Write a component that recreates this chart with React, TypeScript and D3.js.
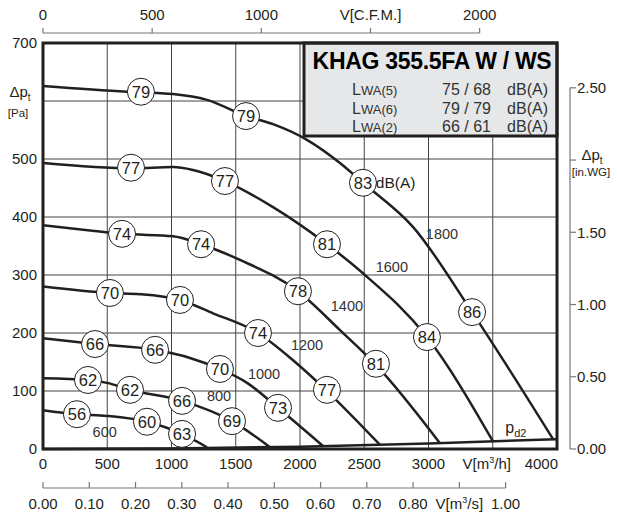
import * as d3 from "d3";
import React from "react";

// flow ticks (m3/h) and pressure ticks (Pa)
const flowTicks = [0, 500, 1000, 1500, 2000, 2500, 3000, 3500, 4000];
const pressureTicks = [0, 100, 200, 300, 400, 500, 600, 700];
const cfmTicks = [0, 500, 1000, 1500, 2000];
const m3sTicks = [0, 0.1, 0.2, 0.3, 0.4, 0.5, 0.6, 0.7, 0.8, 0.9, 1.0];
const inwgTicks = [0, 0.5, 1.0, 1.5, 2.0, 2.5];

// fan curves [V m3/h, dp Pa]
const curve600 = [[0, 67], [264, 60], [498, 57], [809, 47], [1082, 26], [1276, 3]];
const curve800 = [[0, 122], [350, 119], [498, 114], [677, 102], [1082, 83], [1471, 48], [1767, 3]];
const curve1000 = [[0, 191], [405, 181], [872, 171], [1144, 157], [1377, 138], [1588, 114], [1829, 71], [2179, 5]];
const curve1200 = [[0, 280], [521, 269], [755, 267], [1066, 257], [1323, 234], [1673, 200], [1946, 153], [2200, 102], [2623, 7]];
const curve1400 = [[0, 386], [400, 376], [623, 371], [1012, 367], [1230, 353], [1533, 326], [1984, 272], [2311, 205], [2591, 145], [3089, 10]];
const curve1600 = [[0, 493], [693, 484], [1012, 486], [1167, 481], [1416, 462], [1790, 417], [2210, 353], [2490, 303], [2988, 193], [3502, 13]];
const curve1800 = [[0, 626], [654, 616], [1012, 612], [1276, 602], [1580, 574], [1790, 560], [2054, 533], [2311, 493], [2490, 459], [2879, 383], [3339, 236], [3969, 17]];
const pd2Line = [[0, 0], [1000, 1], [2000, 4], [3000, 9.5], [4000, 17]];

const curves = [curve600, curve800, curve1000, curve1200, curve1400, curve1600, curve1800];

// rpm labels [V, dp, text]
const rpmLabels: [number, number, string][] = [
  [480, 30, "600"],
  [1370, 91, "800"],
  [1720, 129, "1000"],
  [2055, 179, "1200"],
  [2365, 246, "1400"],
  [2715, 314, "1600"],
  [3105, 370, "1800"],
];

// sound level circles [V, dp, dB]
const soundMarks: [number, number, string][] = [
  [762, 616, "79"], [1580, 574, "79"], [2490, 459, "83"], [3339, 236, "86"],
  [685, 485, "77"], [1416, 462, "77"], [2210, 353, "81"], [2988, 193, "84"],
  [615, 371, "74"], [1230, 353, "74"], [1984, 272, "78"], [2591, 147, "81"],
  [521, 269, "70"], [1066, 257, "70"], [1673, 200, "74"], [2210, 102, "77"],
  [405, 181, "66"], [872, 171, "66"], [1377, 138, "70"], [1829, 71, "73"],
  [350, 119, "62"], [677, 102, "62"], [1082, 83, "66"], [1471, 48, "69"],
  [264, 60, "56"], [809, 47, "60"], [1082, 26, "63"],
];

const legendRows = [
  ["(5)", "75 / 68"],
  ["(6)", "79 / 79"],
  ["(2)", "66 / 61"],
];

const FONT = "'Liberation Sans', Arial, sans-serif";
const INK = "#231f20";

const App: React.FC = () => {
  const x = d3.scaleLinear().domain([0, 4000]).range([43, 557]);
  const y = d3.scaleLinear().domain([0, 700]).range([449, 43]);
  const xCfm = d3.scaleLinear().domain([0, 4000 / 1.699]).range([43, 557]);
  const xM3s = d3.scaleLinear().domain([0, 4000 / 3600]).range([43, 557]);
  const yWg = d3.scaleLinear().domain([0, 700 / 249.09]).range([449, 43]);

  const line = d3
    .line<number[]>()
    .x((d) => x(d[0]))
    .y((d) => y(d[1]))
    .curve(d3.curveMonotoneX);

  const [x0, x1] = x.range();
  const [y0, y1] = y.range();

  return (
    <svg
      width={617}
      height={513}
      style={{ position: "absolute", left: 0, top: 0, background: "#fff" }}
      fontFamily={FONT}
      fill={INK}
    >
      {/* grid */}
      {flowTicks.slice(1, -1).map((t) => (
        <line key={"gx" + t} x1={x(t)} x2={x(t)} y1={y1} y2={y0} stroke="#444" strokeWidth={1} />
      ))}
      {pressureTicks.slice(1, -1).map((t) => (
        <line key={"gy" + t} x1={x0} x2={x1} y1={y(t)} y2={y(t)} stroke="#444" strokeWidth={1} />
      ))}

      {/* legend box */}
      <rect x={304} y={y1} width={x1 - 304} height={93} fill="#e6e7e8" stroke={INK} strokeWidth={3} />
      <text x={432} y={69} textAnchor="middle" fontSize={23} fontWeight="bold" fill="#000" letterSpacing={-0.3}>
        KHAG 355.5FA W / WS
      </text>
      {legendRows.map((r, i) => (
        <g key={r[0]} fontSize={16} fill="#333">
          <text x={352} y={95 + i * 18.5}>
            L<tspan fontSize={13}>WA{r[0]}</tspan>
          </text>
          <text x={491} y={95 + i * 18.5} textAnchor="end">{r[1]}</text>
          <text x={548} y={95 + i * 18.5} textAnchor="end">dB(A)</text>
        </g>
      ))}

      {/* curves */}
      {curves.map((c, i) => (
        <path key={"c" + i} d={line(c) || ""} fill="none" stroke={INK} strokeWidth={2.5} />
      ))}
      <path d={line(pd2Line) || ""} fill="none" stroke={INK} strokeWidth={2.5} />
      <text x={x(3680)} y={y(27)} fontSize={16} textAnchor="middle">
        p<tspan fontSize={11} dy={4}>d2</tspan>
      </text>

      {/* rpm labels */}
      {rpmLabels.map((l) => (
        <text key={l[2]} x={x(l[0])} y={y(l[1])} fontSize={14.5} textAnchor="middle" dy="0.35em" fill="#333">
          {l[2]}
        </text>
      ))}

      {/* sound level marks */}
      {soundMarks.map((m, i) => (
        <g key={"m" + i} transform={`translate(${x(m[0])},${y(m[1])})`}>
          <circle r={13.5} fill="#fff" stroke={INK} strokeWidth={1} />
          <text textAnchor="middle" dy="0.36em" fontSize={16.5}>{m[2]}</text>
        </g>
      ))}
      <text x={x(2590)} y={y(459)} dy="0.36em" fontSize={15.5}>dB(A)</text>

      {/* plot frame */}
      <rect x={x0} y={y1} width={x1 - x0} height={y0 - y1} fill="none" stroke={INK} strokeWidth={3} />

      {/* left axis labels */}
      {pressureTicks.filter((t) => t !== 600).map((t) => (
        <text key={"yl" + t} x={37} y={y(t)} dy="0.35em" textAnchor="end" fontSize={15}>{t}</text>
      ))}
      <text x={20} y={97} textAnchor="middle" fontSize={15}>
        Δp<tspan fontSize={10} dy={4}>t</tspan>
      </text>
      <text x={18} y={117} textAnchor="middle" fontSize={11.5}>[Pa]</text>

      {/* bottom flow labels */}
      {flowTicks.map((t) =>
        t === 3500 ? (
          <text key="fl" x={x(t) - 6} y={469} textAnchor="middle" fontSize={15}>
            V[m<tspan fontSize={9} dy={-6}>3</tspan><tspan dy={6}>/h]</tspan>
          </text>
        ) : (
          <text key={"xl" + t} x={t === 4000 ? x(t) + 1 : x(t)} y={469} textAnchor={t === 4000 ? "end" : "middle"} fontSize={15}>
            {t}
          </text>
        ),
      )}

      {/* top CFM axis */}
      <line x1={xCfm(0)} x2={xCfm(2000)} y1={33} y2={33} stroke="#777" strokeWidth={1.2} />
      {cfmTicks.map((t) => (
        <g key={"cfm" + t}>
          <line x1={xCfm(t)} x2={xCfm(t)} y1={28} y2={33} stroke="#777" strokeWidth={1.2} />
          <text x={xCfm(t)} y={20} textAnchor="middle" fontSize={15}>
            {t === 1500 ? "V[C.F.M.]" : t}
          </text>
        </g>
      ))}

      {/* bottom m3/s axis */}
      <line x1={xM3s(0)} x2={xM3s(1)} y1={488} y2={488} stroke="#777" strokeWidth={1.2} />
      {m3sTicks.map((t) => (
        <g key={"ms" + t}>
          <line x1={xM3s(t)} x2={xM3s(t)} y1={482} y2={488} stroke="#777" strokeWidth={1.2} />
          {Math.abs(t - 0.9) < 1e-6 ? (
            <text x={xM3s(t)} y={509} textAnchor="middle" fontSize={15}>
              V[m<tspan fontSize={9} dy={-6}>3</tspan><tspan dy={6}>/s]</tspan>
            </text>
          ) : (
            <text x={xM3s(t)} y={509} textAnchor="middle" fontSize={15}>{t.toFixed(2)}</text>
          )}
        </g>
      ))}

      {/* right in.WG axis */}
      <line x1={570} x2={570} y1={yWg(2.5)} y2={yWg(0)} stroke="#777" strokeWidth={1.2} />
      {inwgTicks.map((t) => (
        <g key={"wg" + t}>
          <line x1={570} x2={576} y1={yWg(t)} y2={yWg(t)} stroke="#777" strokeWidth={1.2} />
          {t !== 2 && (
            <text x={577} y={yWg(t)} dy="0.35em" fontSize={15}>{t.toFixed(2)}</text>
          )}
        </g>
      ))}
      <text x={592} y={160} textAnchor="middle" fontSize={15}>
        Δp<tspan fontSize={10} dy={4}>t</tspan>
      </text>
      <text x={591} y={176} textAnchor="middle" fontSize={11.5}>[in.WG]</text>
    </svg>
  );
};

export default App;
